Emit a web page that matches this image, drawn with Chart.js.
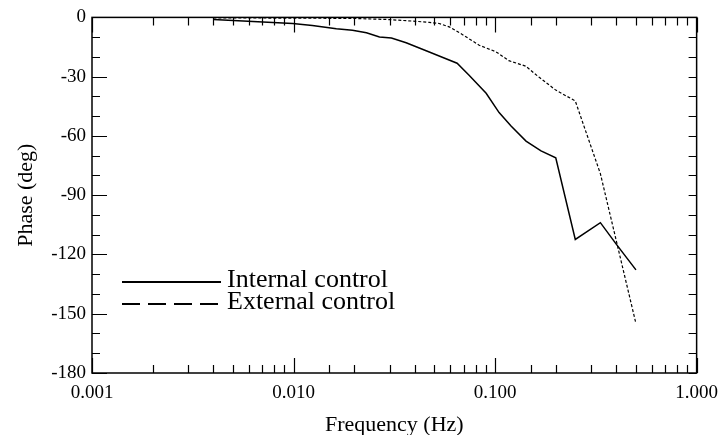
<!DOCTYPE html>
<html><head><meta charset="utf-8">
<script src="https://cdn.jsdelivr.net/npm/chart.js@4"></script>
<style>html,body{margin:0;padding:0;background:#fff}canvas{display:block}</style>
</head><body>
<canvas id="c" width="727" height="435"></canvas>
<script>
// ---- data ----
const internalFreq  = [0.004, 0.0099, 0.0124, 0.0163, 0.0196, 0.023, 0.0267, 0.0306, 0.0362, 0.0455, 0.0547, 0.0648, 0.0743, 0.0903, 0.1047, 0.120, 0.1424, 0.169, 0.2, 0.25, 0.333, 0.4, 0.5];
const internalPhase = [-1.1, -3.1, -4.1, -5.8, -6.5, -7.8, -9.9, -10.4, -12.8, -16.9, -20.2, -23.2, -29.3, -38.4, -48.2, -55.0, -62.6, -67.6, -71.1, -112.4, -103.9, -114.9, -127.8];
const externalFreq  = [0.004, 0.0196, 0.0299, 0.0406, 0.0471, 0.0528, 0.0592, 0.0687, 0.0834, 0.101, 0.117, 0.142, 0.165, 0.2, 0.25, 0.333, 0.5];
const externalPhase = [-0.2, -0.5, -1.1, -2.0, -2.5, -3.1, -4.8, -8.6, -14.1, -17.4, -21.9, -24.7, -30.2, -36.8, -42.3, -79.1, -155.0];
const seriesLabels  = ['Internal control', 'External control'];
const xRange = [0.001, 1];
const yRange = [-180, 0];
const yLabelStep = 30;
const yMinorStep = 10;
const xTitle = 'Frequency (Hz)';
const yTitle = 'Phase (deg)';

const FONT = '"Liberation Serif", "Times New Roman", serif';
const isDecade = v => Math.abs(Math.log10(v) - Math.round(Math.log10(v))) < 1e-6;

const framePlugin = {
  id: 'frame',
  afterDatasetsDraw(chart) {
    const ctx = chart.ctx;
    const {left, right, top, bottom} = chart.chartArea;
    const xs = chart.scales.x, ys = chart.scales.y;
    ctx.save();
    ctx.strokeStyle = '#000';
    ctx.lineWidth = 1.5;
    ctx.strokeRect(left, top, right - left, bottom - top);
    ctx.lineWidth = 1.2;
    ctx.beginPath();
    xs.ticks.forEach(t => {
      const px = Math.round(xs.getPixelForValue(t.value)) + 0.5;
      const len = isDecade(t.value) ? 15 : 8;
      ctx.moveTo(px, bottom); ctx.lineTo(px, bottom - len);
      ctx.moveTo(px, top); ctx.lineTo(px, top + len);
    });
    ys.ticks.forEach(t => {
      const py = Math.round(ys.getPixelForValue(t.value)) + 0.5;
      const len = (t.value % yLabelStep === 0) ? 15 : 8;
      ctx.moveTo(left, py); ctx.lineTo(left + len, py);
      ctx.moveTo(right, py); ctx.lineTo(right - 8, py);
    });
    ctx.stroke();
    ctx.restore();
  }
};

const legendPlugin = {
  id: 'customLegend',
  afterDraw(chart) {
    const ctx = chart.ctx;
    ctx.save();
    ctx.font = '26px ' + FONT;
    ctx.fillStyle = '#000';
    ctx.textBaseline = 'middle';
    ctx.textAlign = 'left';
    const rows = [{y: 282, dash: []}, {y: 304, dash: [18, 8]}];
    chart.data.datasets.forEach((ds, i) => {
      const r = rows[i];
      ctx.strokeStyle = '#000';
      ctx.lineWidth = 2;
      ctx.setLineDash(r.dash);
      ctx.beginPath();
      ctx.moveTo(122, r.y); ctx.lineTo(221, r.y);
      ctx.stroke();
      ctx.setLineDash([]);
      ctx.fillText(ds.label, 227, r.y - 2);
    });
    ctx.restore();
  }
};

new Chart(document.getElementById('c'), {
  type: 'line',
  data: {
    datasets: [
      {
        label: seriesLabels[0],
        data: internalFreq.map((f, i) => ({x: f, y: internalPhase[i]})),
        borderColor: '#000', borderWidth: 1.5, pointRadius: 0, tension: 0, fill: false
      },
      {
        label: seriesLabels[1],
        data: externalFreq.map((f, i) => ({x: f, y: externalPhase[i]})),
        borderColor: '#000', borderWidth: 1.2, borderDash: [3, 2], pointRadius: 0, tension: 0, fill: false
      }
    ]
  },
  options: {
    responsive: false,
    animation: false,
    devicePixelRatio: 1,
    layout: {padding: {top: 11, right: 29, left: 0, bottom: 0}},
    plugins: {legend: {display: false}, tooltip: {enabled: false}},
    scales: {
      x: {
        type: 'logarithmic', min: xRange[0], max: xRange[1], position: 'bottom',
        grid: {display: false, drawTicks: false},
        border: {display: false},
        ticks: {
          autoSkip: false, maxRotation: 0, minRotation: 0, padding: 9, color: '#000',
          font: {family: FONT, size: 19},
          callback: v => isDecade(v) ? Number(v).toFixed(3) : ''
        },
        title: {display: true, text: xTitle, color: '#000', font: {family: FONT, size: 22}, padding: {top: 0, bottom: -3}},
        afterFit: s => { s.height = 62; }
      },
      y: {
        type: 'linear', min: yRange[0], max: yRange[1],
        grid: {display: false, drawTicks: false},
        border: {display: false},
        ticks: {
          stepSize: yMinorStep, autoSkip: false, padding: 6, color: '#000',
          font: {family: FONT, size: 19},
          callback: v => (v % yLabelStep === 0) ? String(v) : ''
        },
        title: {display: true, text: yTitle, color: '#000', font: {family: FONT, size: 22}, padding: {top: 13, bottom: 0}},
        afterFit: s => { s.width = 92; }
      }
    }
  },
  plugins: [framePlugin, legendPlugin]
});
</script>
</body></html>
